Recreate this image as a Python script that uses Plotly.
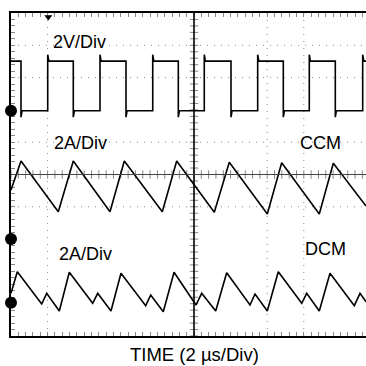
import numpy as np
import plotly.graph_objects as go

# ---- data (oscilloscope divisions: x 0..10 from left, y -5..5 around centre) ----
sw_edges = [0.273, 1.003, 1.702, 2.432, 3.142, 3.872, 4.571, 5.281,
            6.011, 6.740, 7.440, 8.150, 8.861, 9.609]
sw_high = 3.51
sw_low = 1.975
sw_spike = 0.2

ccm_x = [0.0, 0.273, 1.292, 1.702, 2.705, 3.096, 4.134, 4.527, 5.555,
         5.964, 7.003, 7.396, 8.423, 8.806, 9.699]
ccm_y = [-0.48, 0.418, -1.152, 0.418, -1.152, 0.418, -1.152, 0.418, -1.170,
         0.378, -1.223, 0.365, -1.223, 0.347, -0.975]

dcm_x = [0.0, 0.172, 0.839, 0.975, 1.320, 1.593, 2.232, 2.369, 2.732, 3.005,
         3.680, 3.817, 4.161, 4.454, 5.055, 5.210, 5.593, 5.893, 6.530, 6.667,
         7.003, 7.303, 7.943, 8.079, 8.423, 8.716, 9.380, 9.536, 9.699]
dcm_y = [-3.678, -3.009, -4.009, -3.678, -4.226, -3.028, -3.988, -3.678, -4.226,
         -3.059, -4.062, -3.731, -4.248, -3.028, -4.040, -3.678, -4.226, -3.040,
         -4.040, -3.700, -4.226, -3.009, -3.988, -3.678, -4.226, -3.059, -4.062,
         -3.678, -3.938]

ground_y = [1.975, -2.0, -3.969]
trigger_x = 1.02

labels = ["2V/Div", "2A/Div", "CCM", "2A/Div", "DCM"]
label_x = [1.885, 1.899, 8.443, 2.049, 8.593]
label_y = [4.087, 0.975, 0.96, -2.461, -2.291]
xlabel = "TIME (2 \u00b5s/Div)"

grid_x = [1, 7, 8]
grid_y = [4, 3, 1, -1]

# ---- build square wave path from edge list ----
sq_x, sq_y = [0.0], [sw_high]
state = sw_high
for e in sw_edges:
    if state == sw_high:
        sq_x += [e, e, e + 0.03]
        sq_y += [sw_high, sw_low - sw_spike, sw_low]
        state = sw_low
    else:
        sq_x += [e, e, e + 0.03]
        sq_y += [sw_low, sw_high + sw_spike, sw_high]
        state = sw_high
xmax = 355 / 36.6
sq_x.append(xmax)
sq_y.append(state)

FONT = "Liberation Sans, Arial, sans-serif"
fig = go.Figure()

# dotted grid
shapes = []
for gx in grid_x:
    shapes.append(dict(type="line", x0=gx, x1=gx, y0=-5, y1=5, xref="x", yref="y",
                       line=dict(color="#8a8a8a", width=1, dash="1px,6px"),
                       layer="below"))
for gy in grid_y:
    shapes.append(dict(type="line", x0=0, x1=xmax, y0=gy, y1=gy, xref="x", yref="y",
                       line=dict(color="#8a8a8a", width=1, dash="1px,6px"),
                       layer="below"))
# centre cross-hair
shapes.append(dict(type="line", x0=5, x1=5, y0=-5, y1=5, xref="x", yref="y",
                   line=dict(color="black", width=1.6)))
shapes.append(dict(type="line", x0=0, x1=xmax, y0=0, y1=0, xref="x", yref="y",
                   line=dict(color="#444444", width=1)))

# centre-line minor ticks
tx = np.arange(0, xmax, 0.2)
ty = np.arange(-5, 5.01, 0.2)
fig.add_trace(go.Scatter(x=tx, y=[0] * len(tx), mode="markers", hoverinfo="skip",
                         marker=dict(symbol="line-ns", size=6,
                                     line=dict(color="#888888", width=1))))
fig.add_trace(go.Scatter(x=[5] * len(ty), y=ty, mode="markers", hoverinfo="skip",
                         marker=dict(symbol="line-ew", size=6,
                                     line=dict(color="#888888", width=1))))

# traces
line = dict(color="black", width=1.6)
fig.add_trace(go.Scatter(x=sq_x, y=sq_y, mode="lines", line=line))
fig.add_trace(go.Scatter(x=ccm_x, y=ccm_y, mode="lines", line=line))
fig.add_trace(go.Scatter(x=dcm_x, y=dcm_y, mode="lines", line=line))

# ground markers and trigger marker
fig.add_trace(go.Scatter(x=[0] * len(ground_y), y=ground_y, mode="markers",
                         cliponaxis=False,
                         marker=dict(symbol="circle", size=12, color="black",
                                     line=dict(width=0))))
fig.add_trace(go.Scatter(x=[trigger_x], y=[4.88], mode="markers", cliponaxis=False,
                         marker=dict(symbol="triangle-down", size=7, color="black",
                                     line=dict(width=0))))

annotations = []
for t, x, y in zip(labels, label_x, label_y):
    annotations.append(dict(text=t, x=x, y=y, xref="x", yref="y", showarrow=False,
                            xanchor="center", yanchor="middle",
                            font=dict(family=FONT, size=18, color="black")))
annotations.append(dict(text=xlabel, x=(194 - 11) / 355, y=-29.5 / 323, xref="paper",
                        yref="paper", showarrow=False, xanchor="center",
                        yanchor="bottom", borderpad=0,
                        font=dict(family=FONT, size=18.5, color="black")))

fig.update_layout(
    width=366, height=366,
    margin=dict(l=11, r=0, t=13, b=30, pad=0),
    paper_bgcolor="white", plot_bgcolor="white",
    showlegend=False,
    shapes=shapes, annotations=annotations,
    xaxis=dict(range=[0, xmax], showgrid=False, zeroline=False, showline=True,
               linecolor="black", linewidth=2, mirror="allticks", ticks="inside",
               tickmode="linear", tick0=0, dtick=0.2, ticklen=4, tickwidth=1,
               tickcolor="#888888", showticklabels=False, fixedrange=True,
               layer="below traces"),
    yaxis=dict(range=[-5, 5], showgrid=False, zeroline=False, showline=True,
               linecolor="black", linewidth=2, mirror=False, ticks="inside",
               tickmode="linear", tick0=-5, dtick=0.2, ticklen=4, tickwidth=1,
               tickcolor="#888888", showticklabels=False, fixedrange=True,
               layer="below traces"),
)

fig.write_html("out.html",
               config={"displayModeBar": False},
               post_script="document.body.style.margin='0';"
                           "document.body.style.overflow='hidden';")
